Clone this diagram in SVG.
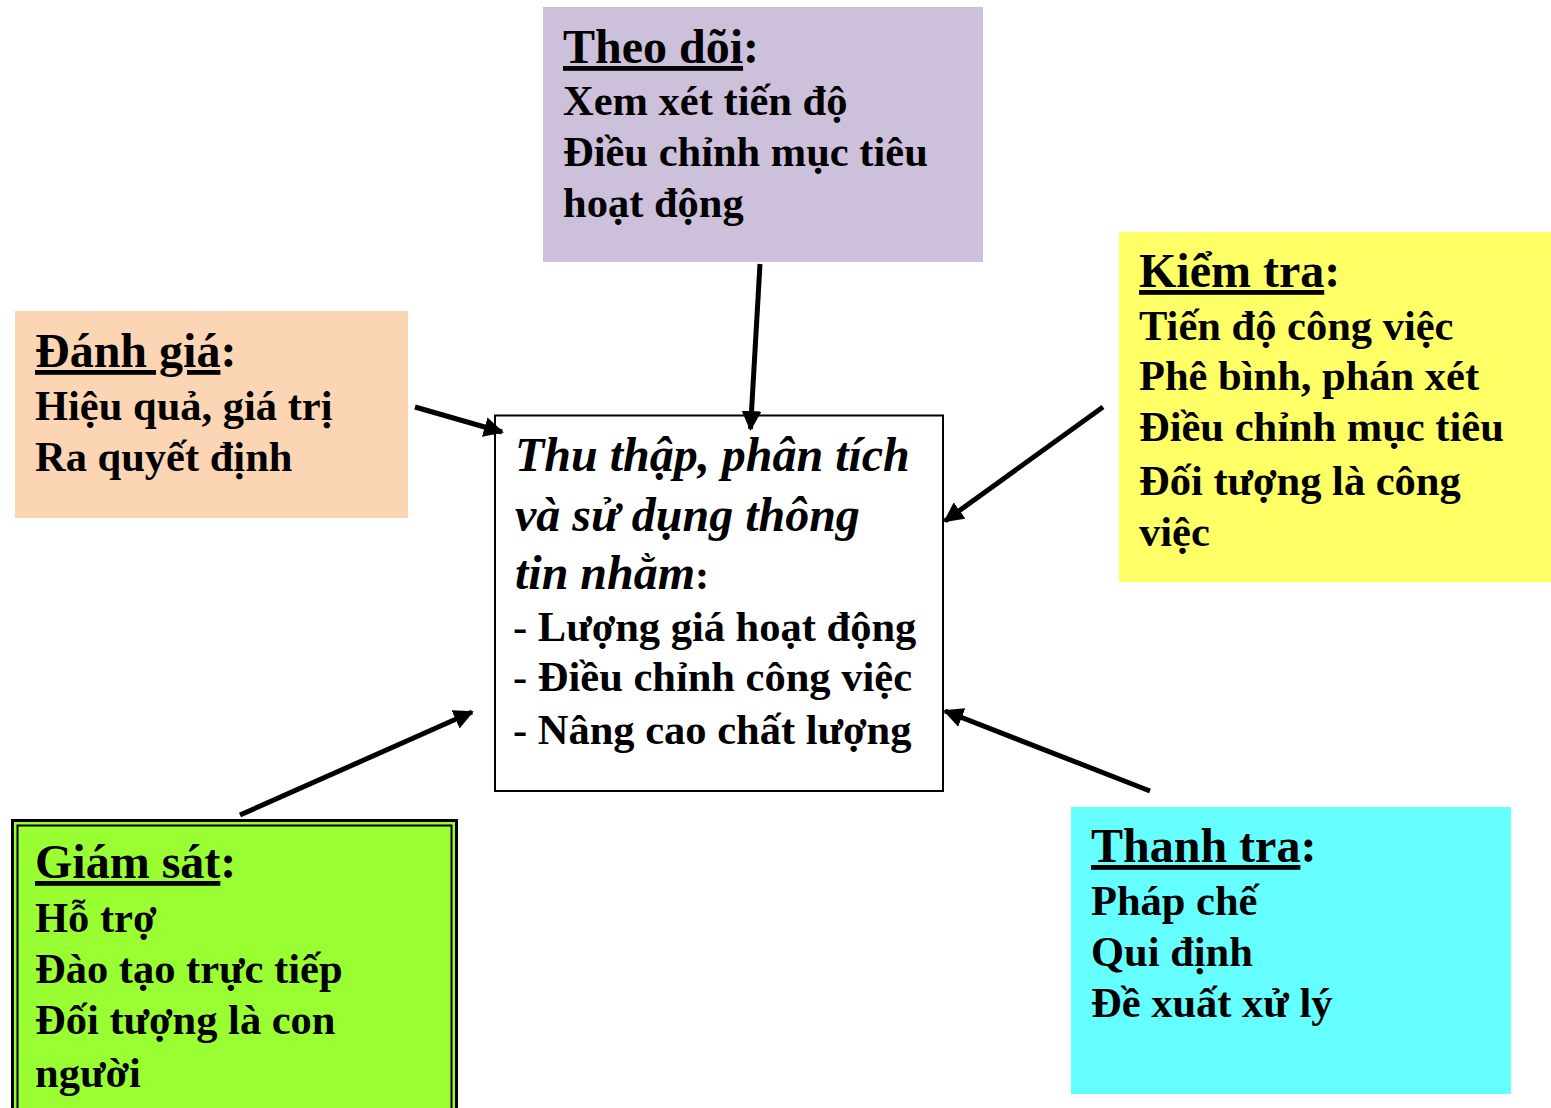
<svg xmlns="http://www.w3.org/2000/svg" width="1551" height="1108" viewBox="0 0 1551 1108">
<defs>
<marker id="ah" viewBox="0 0 10 10" refX="9" refY="5" markerWidth="4" markerHeight="4" orient="auto" markerUnits="strokeWidth">
<path d="M0,0 L10,5 L0,10 z" fill="#000"/>
</marker>
<style>
text{font-family:"Liberation Serif","Times New Roman",serif;font-weight:bold;font-size:42.5px;fill:#000}
.it{font-style:italic;font-size:48px}
.t{font-size:48px}
.u{text-decoration:underline}
.conn line{stroke:#000;stroke-width:5;marker-end:url(#ah)}
</style>
</defs>
<rect width="1551" height="1108" fill="#fff"/>
<g id="theo-doi">
<rect x="543" y="7" width="440" height="255" fill="#CCC0DA"/>
<text x="563" y="63" class="t"><tspan class="u">Theo dõi</tspan>:</text>
<text x="563" y="115">Xem xét tiến độ</text>
<text x="563" y="166">Điều chỉnh mục tiêu</text>
<text x="563" y="217">hoạt động</text>
</g>
<g id="kiem-tra">
<rect x="1119" y="232" width="432" height="350" fill="#FFFF66"/>
<text x="1139" y="287" class="t"><tspan class="u">Kiểm tra</tspan>:</text>
<text x="1139" y="340">Tiến độ công việc</text>
<text x="1139" y="390">Phê bình, phán xét</text>
<text x="1139" y="441">Điều chỉnh mục tiêu</text>
<text x="1139" y="495">Đối tượng là công</text>
<text x="1139" y="546">việc</text>
</g>
<g id="danh-gia">
<rect x="15" y="311" width="393" height="207" fill="#FCD5B4"/>
<text x="35" y="367" class="t"><tspan class="u">Đánh giá</tspan>:</text>
<text x="35" y="420">Hiệu quả, giá trị</text>
<text x="35" y="471">Ra quyết định</text>
</g>
<g id="center">
<rect x="495" y="415.5" width="448" height="375.5" fill="#fff" stroke="#000" stroke-width="2"/>
<text x="515" y="471"><tspan class="it">Thu thập, phân tích</tspan></text>
<text x="515" y="531"><tspan class="it">và sử dụng thông</tspan></text>
<text x="515" y="589"><tspan class="it">tin nhằm</tspan>:</text>
<text x="513" y="641">- Lượng giá hoạt động</text>
<text x="513" y="691">- Điều chỉnh công việc</text>
<text x="513" y="744">- Nâng cao chất lượng</text>
</g>
<g id="giam-sat">
<rect x="12.5" y="820.5" width="444" height="290" fill="#99FF33" stroke="#000" stroke-width="3"/>
<rect x="17.5" y="825.5" width="434" height="290" fill="none" stroke="#000" stroke-width="2"/>
<text x="35" y="878" class="t"><tspan class="u">Giám sát</tspan>:</text>
<text x="35" y="932">Hỗ trợ</text>
<text x="35" y="983">Đào tạo trực tiếp</text>
<text x="35" y="1034">Đối tượng là con</text>
<text x="35" y="1087">người</text>
</g>
<g id="thanh-tra">
<rect x="1071" y="807" width="440" height="287" fill="#66FFFF"/>
<text x="1091" y="862" class="t"><tspan class="u">Thanh tra</tspan>:</text>
<text x="1091" y="915">Pháp chế</text>
<text x="1091" y="966">Qui định</text>
<text x="1091" y="1017">Đề xuất xử lý</text>
</g>
<g class="conn" id="connectors">
<line x1="760" y1="264" x2="750.5" y2="429"/>
<line x1="415" y1="407" x2="502" y2="432"/>
<line x1="1103" y1="407" x2="945" y2="521"/>
<line x1="1150" y1="791" x2="945" y2="711"/>
<line x1="240" y1="815" x2="472" y2="712"/>
</g>
</svg>
